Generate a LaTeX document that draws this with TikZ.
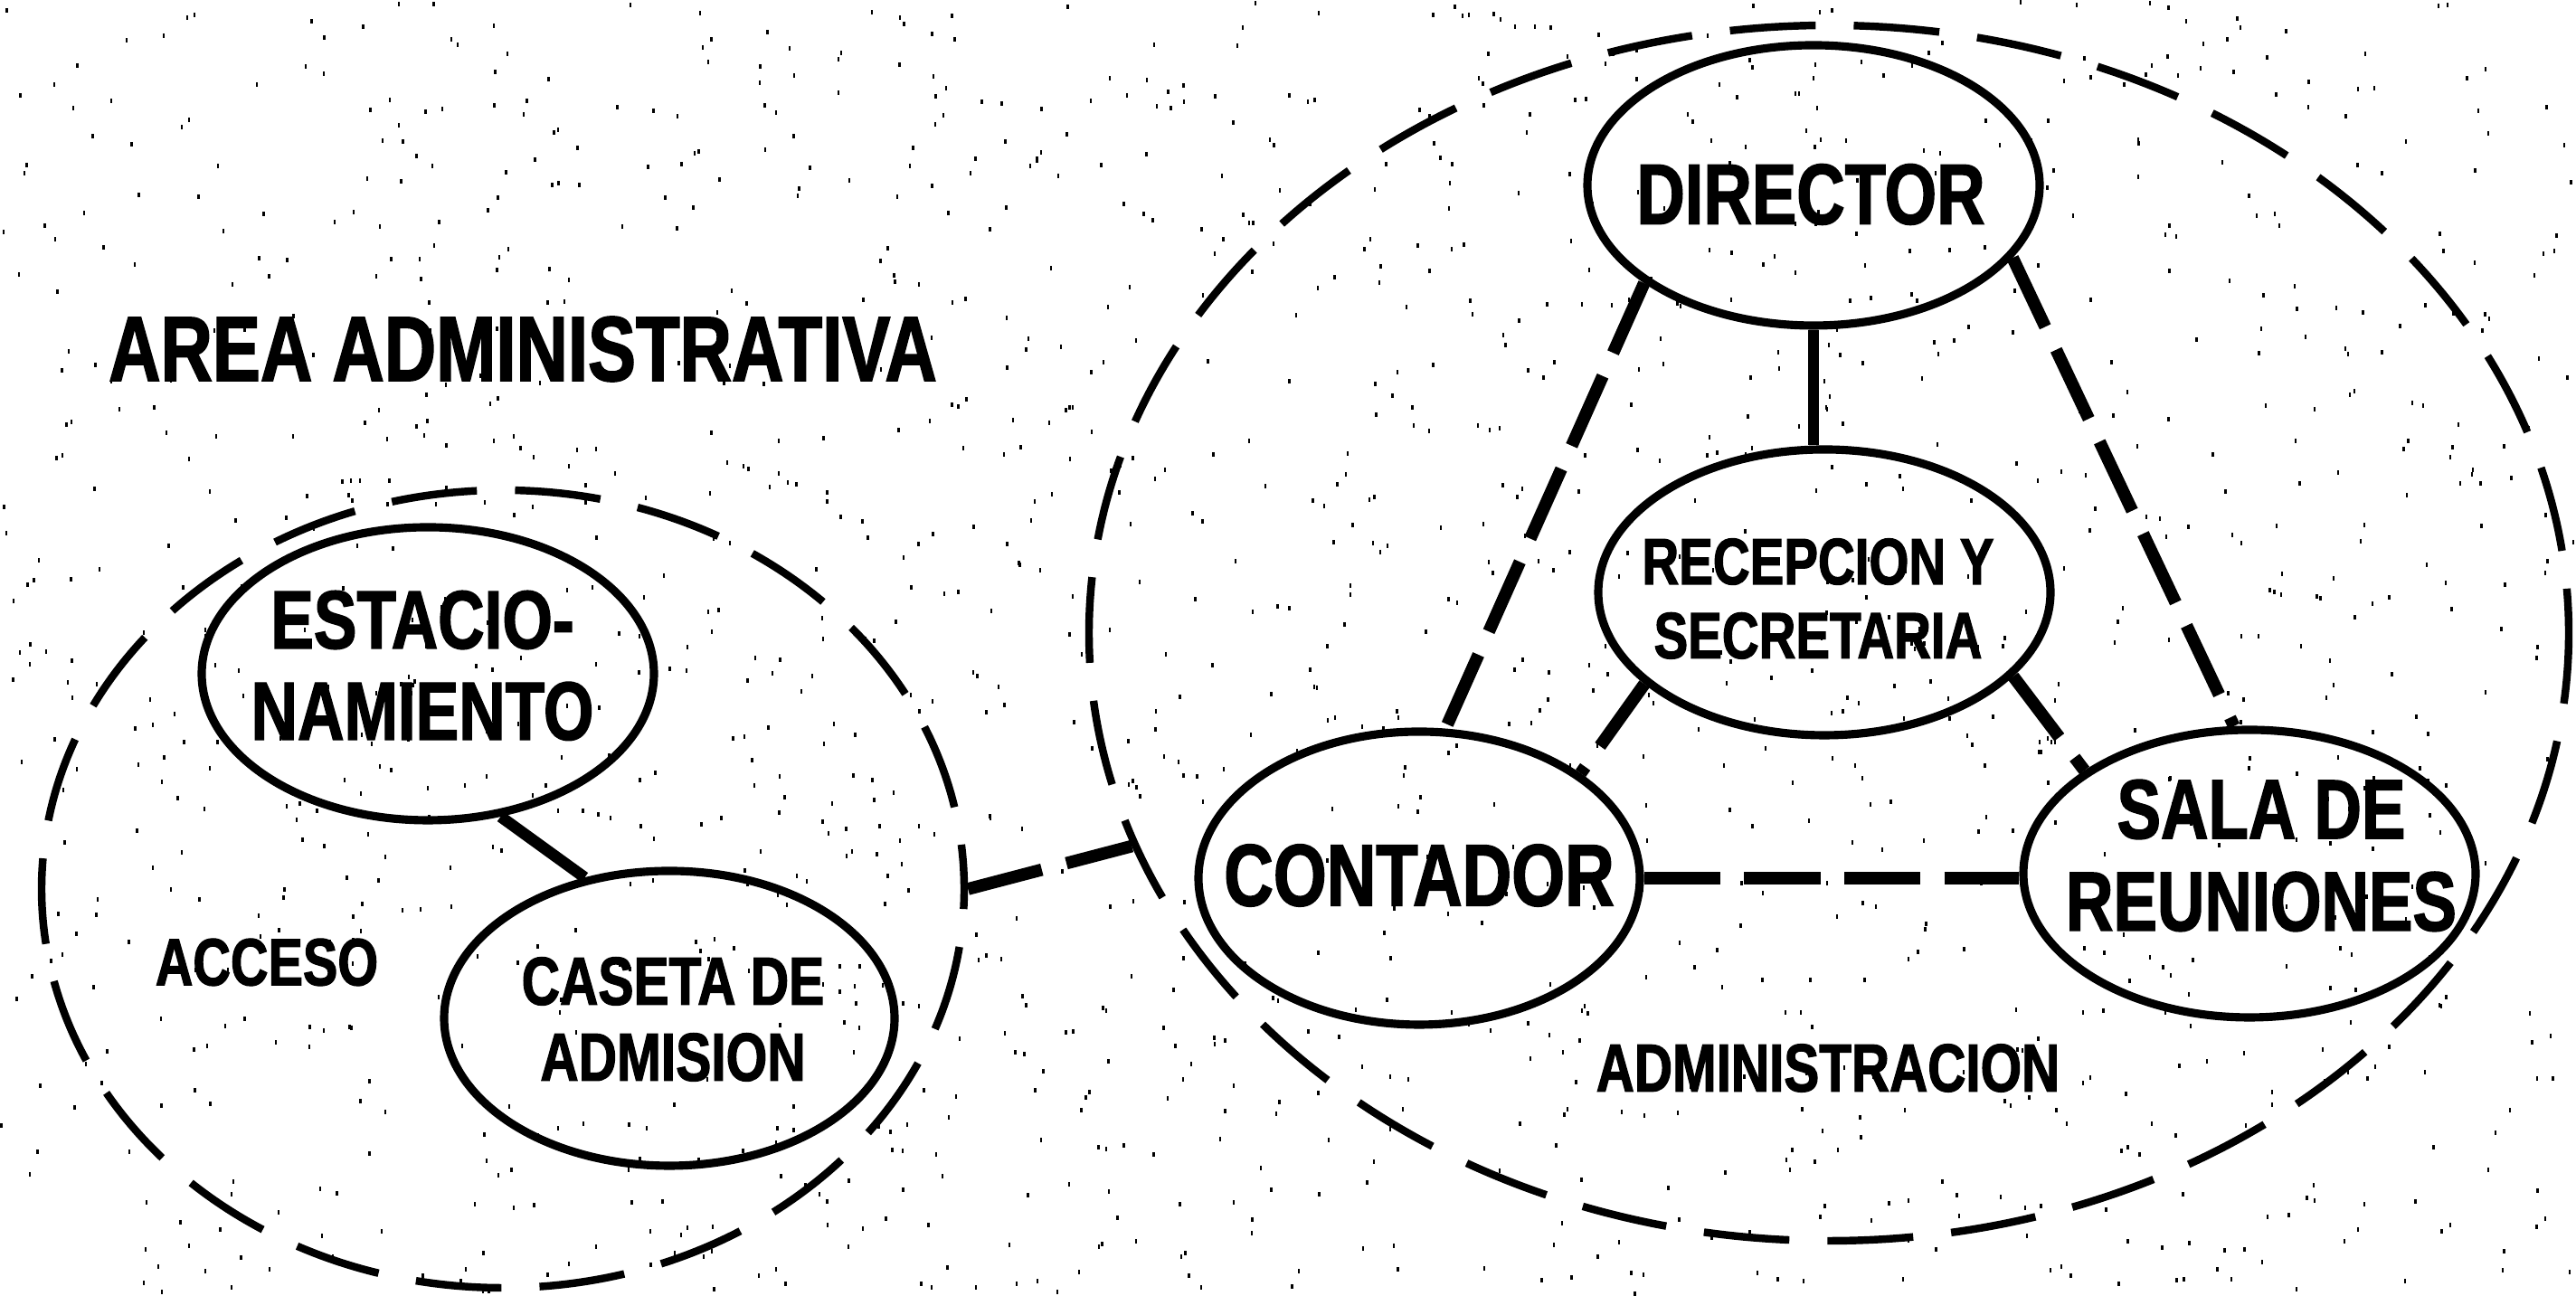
\documentclass[tikz,border=0pt]{standalone}
\usepackage{fontspec}
\newfontfamily\lett[FakeStretch=0.78, FakeBold=1.6]{Liberation Sans}
\usetikzlibrary{shapes.geometric}
\tikzset{
  bub/.style={draw, ellipse, line width=2.6pt, inner sep=0pt},
  zone/.style={draw, ellipse, line width=2.4pt, dash pattern=on 27pt off 12pt, dash phase=13pt, inner sep=0pt},
  link/.style={line width=3.6pt},
  dlink/.style={line width=3.9pt, dash pattern=on 24pt off 8pt},
  lbl/.style={inner sep=0pt, align=center},
}
\begin{document}
\begin{tikzpicture}
\useasboundingbox (0,0) rectangle (28.48,14.33);
\fill[white] (0,0) rectangle (28.48,14.33);
% scanned stipple
\pgfmathsetseed{7}
\foreach \i in {1,...,1600} {
  \fill[black] ({rnd*28.45},{rnd*14.28}) rectangle ++(0.025,0.05);
}
% zones
\node[zone, minimum width=10.20cm, minimum height=8.82cm] (L) at (5.56,4.50) {};
\node[zone, minimum width=16.36cm, minimum height=13.44cm] (R) at (20.22,7.33) {};
% bubbles
\node[bub, minimum width=5.00cm, minimum height=3.24cm] (est) at (4.73,6.88) {};
\node[bub, minimum width=4.98cm, minimum height=3.26cm] (cas) at (7.40,3.07) {};
\node[bub, minimum width=5.00cm, minimum height=3.10cm] (dir) at (20.05,12.28) {};
\node[bub, minimum width=5.00cm, minimum height=3.16cm] (rec) at (20.17,7.78) {};
\node[bub, minimum width=4.88cm, minimum height=3.24cm] (con) at (15.69,4.62) {};
\node[bub, minimum width=5.00cm, minimum height=3.18cm] (sal) at (24.87,4.67) {};
% texts
\node[lbl, font=\lett\bfseries\fontsize{29pt}{32pt}\selectfont] (area) at (5.78,10.47) {AREA ADMINISTRATIVA};
\node[lbl, font=\lett\bfseries\fontsize{26pt}{28.7pt}\selectfont] (estT) at (4.67,6.97) {ESTACIO-\\NAMIENTO};
\node[lbl, font=\lett\bfseries\fontsize{21.4pt}{23.9pt}\selectfont] (casT) at (7.44,3.06) {CASETA DE\\ADMISION};
\node[lbl, font=\lett\bfseries\fontsize{21pt}{23pt}\selectfont] (acc) at (2.95,3.69) {ACCESO};
\node[lbl, font=\lett\bfseries\fontsize{27pt}{30pt}\selectfont] (dirT) at (20.02,12.18) {DIRECTOR};
\node[lbl, font=\lett\bfseries\fontsize{20.6pt}{23.3pt}\selectfont] (recT) at (20.10,7.71) {RECEPCION Y\\SECRETARIA};
\node[lbl, font=\lett\bfseries\fontsize{27.6pt}{30pt}\selectfont] (conT) at (15.69,4.65) {CONTADOR};
\node[lbl, font=\lett\bfseries\fontsize{26.5pt}{29pt}\selectfont] (salT) at (25.00,4.87) {SALA DE\\REUNIONES};
\node[lbl, font=\lett\bfseries\fontsize{21.3pt}{23pt}\selectfont] (adm) at (20.21,2.52) {ADMINISTRACION};
% connectors
\draw[link] (est.297) -- (cas.121);
\draw[link] (dir.south) -- (dir.south |- rec.north);
\draw[dlink] (dir.210) -- (con.80);
\draw[dlink] (dir.340) -- (sal.96);
\draw[dlink] (rec.207) -- (con.33);
\draw[dlink] (rec.336) -- (sal.148);
\draw[dlink, dash pattern=on 24pt off 7.5pt] (con.east) -- (con.east -| sal.west);
\draw[dlink] (L.east) -- (R.197);
\end{tikzpicture}
\end{document}
